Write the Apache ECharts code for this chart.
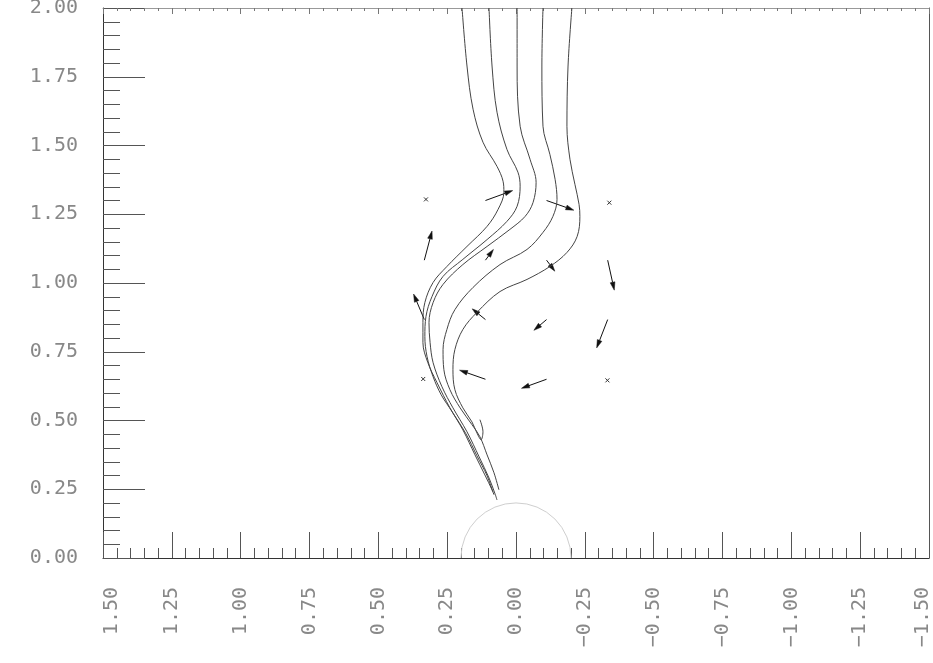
<!DOCTYPE html>
<html>
<head>
<meta charset="utf-8">
<script src="https://cdn.jsdelivr.net/npm/echarts@6/dist/echarts.min.js"></script>
<style>html,body{margin:0;padding:0;background:#fff;overflow:hidden}#c{width:933px;height:663px}</style>
</head>
<body>
<div id="c"></div>
<script>
// ---- tick values ----
const xTicks = [1.5, 1.25, 1.0, 0.75, 0.5, 0.25, 0.0, -0.25, -0.5, -0.75, -1.0, -1.25, -1.5];
const yTicks = [0.0, 0.25, 0.5, 0.75, 1.0, 1.25, 1.5, 1.75, 2.0];

// ---- streamlines ----
const s1X = [0.196,0.178,0.156,0.120,0.069,0.047,0.044,0.065,0.105,0.178,0.251,0.301,0.331,0.338,0.338,0.320,0.287,0.240,0.193,0.149,0.113,0.087,0.080];
const s1Y = [2.0,1.789,1.632,1.512,1.424,1.370,1.330,1.268,1.206,1.133,1.060,1.002,0.929,0.856,0.783,0.710,0.638,0.546,0.466,0.375,0.302,0.248,0.230];
const s2X = [0.098,0.087,0.069,0.033,-0.007,-0.015,-0.004,0.033,0.105,0.193,0.265,0.305,0.327,0.331,0.323,0.301,0.272,0.232,0.182,0.142,0.105,0.084];
const s2Y = [2.0,1.789,1.621,1.486,1.403,1.352,1.279,1.224,1.158,1.086,1.024,0.951,0.878,0.805,0.732,0.659,0.594,0.532,0.452,0.372,0.299,0.240];
const s3X = [-0.004,-0.004,-0.015,-0.051,-0.073,-0.062,-0.033,0.022,0.105,0.193,0.265,0.301,0.316,0.312,0.301,0.269,0.229,0.178,0.134,0.098,0.076,0.069];
const s3Y = [2.0,1.789,1.570,1.450,1.366,1.293,1.242,1.195,1.133,1.067,0.995,0.929,0.856,0.783,0.710,0.623,0.546,0.459,0.368,0.291,0.233,0.211];
const s4X = [-0.098,-0.094,-0.098,-0.123,-0.142,-0.149,-0.134,-0.098,-0.040,0.058,0.156,0.222,0.251,0.265,0.262,0.240,0.203,0.160,0.131,0.105,0.080,0.062];
const s4Y = [2.0,1.789,1.570,1.468,1.377,1.304,1.242,1.184,1.122,1.067,0.984,0.903,0.831,0.758,0.685,0.612,0.546,0.485,0.441,0.375,0.310,0.248];
const s5X = [-0.203,-0.189,-0.185,-0.196,-0.214,-0.229,-0.232,-0.222,-0.185,-0.123,-0.040,0.058,0.142,0.193,0.222,0.229,0.222,0.193,0.160,0.142,0.127,0.120,0.131];
const s5Y = [2.0,1.789,1.570,1.450,1.359,1.286,1.242,1.169,1.111,1.060,1.013,0.969,0.893,0.831,0.758,0.685,0.612,0.546,0.495,0.455,0.430,0.459,0.503];

// ---- velocity arrows (tail position and vector) ----
const arrowX = [0.111,-0.111,0.333,0.111,-0.111,-0.333,0.333,0.111,-0.111,-0.333,0.111,-0.111];
const arrowY = [1.30,1.30,1.083,1.083,1.083,1.083,0.867,0.867,0.867,0.867,0.65,0.65];
const arrowU = [-0.099,-0.099,-0.028,-0.029,-0.030,-0.024,0.039,0.048,0.046,0.040,0.094,0.091];
const arrowV = [0.036,-0.035,0.106,0.039,-0.040,-0.109,0.093,0.039,-0.039,-0.103,0.033,-0.033];

// ---- zero-velocity markers ----
const markX = [0.327,-0.339,0.337,-0.332];
const markY = [1.304,1.292,0.651,0.646];

// ---- cylinder ----
const cylCenterX = [0.0];
const cylCenterY = [0.0];
const cylRadius = [0.2];

const zip = (a, b) => a.map((v, i) => [v, b[i]]);
const fmt = v => (Math.abs(v) < 1e-9 ? '0.00' : v.toFixed(2).replace('-', '\u2212'));
const FONT = 'DejaVu Sans Mono';
const labelFont = { fontFamily: FONT, fontSize: 20, color: '#888' };
const xFmt = v => {
  const s = fmt(v);
  if (Math.abs(v - xTicks[0]) < 1e-9) return '{first|' + s + '}';
  if (Math.abs(v - xTicks[12]) < 1e-9) return '{last|' + s + '}';
  return s;
};

const streams = [[s1X, s1Y], [s2X, s2Y], [s3X, s3Y], [s4X, s4Y], [s5X, s5Y]];

const chart = echarts.init(document.getElementById('c'), null, { renderer: 'canvas' });
chart.setOption({
  animation: false,
  backgroundColor: '#fff',
  grid: { left: 103, right: 4, top: 8, bottom: 105, containLabel: false, outerBoundsMode: 'none' },
  xAxis: [
    {
      type: 'value', min: xTicks[12], max: xTicks[0], interval: 0.25, inverse: true, position: 'bottom',
      axisLine: { show: true, onZero: false, lineStyle: { color: '#333', width: 1 } },
      axisTick: { show: true, inside: true, length: 26, lineStyle: { color: '#555' } },
      minorTick: { show: true, splitNumber: 5, length: 10, lineStyle: { color: '#555' } },
      splitLine: { show: false },
      axisLabel: Object.assign({
        rotate: 90, margin: 29, formatter: xFmt,
        rich: {
          first: Object.assign({ padding: [18, 0, 0, 0] }, labelFont),
          last: Object.assign({ padding: [0, 0, 12, 0] }, labelFont)
        }
      }, labelFont)
    },
    {
      type: 'value', min: xTicks[12], max: xTicks[0], interval: 0.25, inverse: true, position: 'top',
      axisLine: { show: true, onZero: false, lineStyle: { color: '#999', width: 1 } },
      axisTick: { show: true, inside: true, length: 6, lineStyle: { color: '#777' } },
      minorTick: { show: true, splitNumber: 5, length: 3, lineStyle: { color: '#777' } },
      splitLine: { show: false }, axisLabel: { show: false }
    }
  ],
  yAxis: [
    {
      type: 'value', min: yTicks[0], max: yTicks[8], interval: 0.25, position: 'left',
      axisLine: { show: true, onZero: false, lineStyle: { color: '#333', width: 1 } },
      axisTick: { show: true, inside: true, length: 42, lineStyle: { color: '#555' } },
      minorTick: { show: true, splitNumber: 5, length: 17, lineStyle: { color: '#555' } },
      splitLine: { show: false },
      axisLabel: Object.assign({ margin: 25, formatter: fmt }, labelFont)
    },
    {
      type: 'value', min: yTicks[0], max: yTicks[8], interval: 0.25, position: 'right',
      axisLine: { show: true, onZero: false, lineStyle: { color: '#555', width: 1 } },
      axisTick: { show: false }, splitLine: { show: false }, axisLabel: { show: false }
    }
  ],
  series: [
    {
      type: 'custom', xAxisIndex: 0, yAxisIndex: 0, silent: true,
      data: cylCenterX.map((v, i) => [v, cylCenterY[i], cylRadius[i]]),
      encode: { x: 0, y: 1 },
      renderItem: function (params, api) {
        const c = api.coord([api.value(0), api.value(1)]);
        const r = api.size([api.value(2), 0])[0];
        return {
          type: 'arc',
          shape: { cx: c[0], cy: c[1], r: r, startAngle: Math.PI, endAngle: 2 * Math.PI, clockwise: true },
          style: { stroke: '#cfcfcf', fill: null, lineWidth: 1 }
        };
      }
    },
    ...streams.map(s => ({
      type: 'line', xAxisIndex: 0, yAxisIndex: 0, data: zip(s[0], s[1]),
      showSymbol: false, symbol: 'none', smooth: 0.35, clip: true,
      lineStyle: { color: '#444', width: 1 }
    })),
    {
      type: 'custom', xAxisIndex: 0, yAxisIndex: 0, silent: true,
      data: arrowX.map((v, i) => [v, arrowY[i], arrowU[i], arrowV[i]]),
      encode: { x: 0, y: 1 },
      renderItem: function (params, api) {
        const x = api.value(0), y = api.value(1), u = api.value(2), v = api.value(3);
        const p0 = api.coord([x, y]);
        const p1 = api.coord([x + u, y + v]);
        const ang = Math.atan2(p1[1] - p0[1], p1[0] - p0[0]);
        const L = 8, W = 2.4;
        const bx = p1[0] - L * Math.cos(ang), by = p1[1] - L * Math.sin(ang);
        const lft = [bx + W * Math.sin(ang), by - W * Math.cos(ang)];
        const rgt = [bx - W * Math.sin(ang), by + W * Math.cos(ang)];
        return {
          type: 'group',
          children: [
            { type: 'line', shape: { x1: p0[0], y1: p0[1], x2: bx, y2: by }, style: { stroke: '#111', lineWidth: 1 } },
            { type: 'polygon', shape: { points: [p1, lft, rgt] }, style: { fill: '#111', stroke: '#111', lineWidth: 0.5 } }
          ]
        };
      }
    },
    {
      type: 'custom', xAxisIndex: 0, yAxisIndex: 0, silent: true,
      data: zip(markX, markY),
      encode: { x: 0, y: 1 },
      renderItem: function (params, api) {
        const p = api.coord([api.value(0), api.value(1)]);
        const d = 2;
        return {
          type: 'group',
          children: [
            { type: 'line', shape: { x1: p[0] - d, y1: p[1] - d, x2: p[0] + d, y2: p[1] + d }, style: { stroke: '#333', lineWidth: 1 } },
            { type: 'line', shape: { x1: p[0] - d, y1: p[1] + d, x2: p[0] + d, y2: p[1] - d }, style: { stroke: '#333', lineWidth: 1 } }
          ]
        };
      }
    }
  ]
});
</script>
</body>
</html>
